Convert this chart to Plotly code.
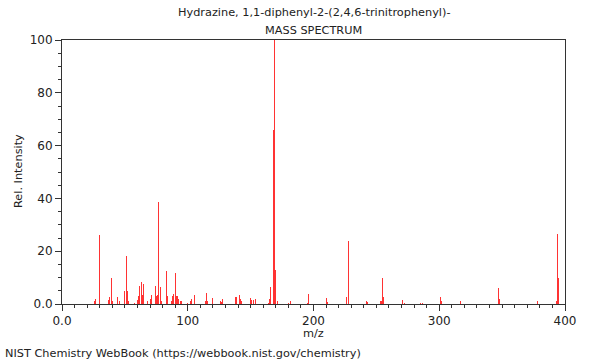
import plotly.graph_objects as go

mz = [26, 27, 30, 37, 38, 39, 40, 44, 46, 50, 51, 52, 53, 58, 60, 61, 62, 63, 64, 65, 66, 68, 70, 71,
      74, 75, 76, 77, 78, 79, 83, 84, 87, 88, 89, 90, 91, 92, 93, 94, 95, 100, 101, 102, 103, 105,
      114, 115, 116, 120, 126, 127, 128, 136, 138, 139, 141, 142, 143, 150, 151, 152, 154,
      164, 165, 166, 167, 168, 169, 170, 171, 180, 182, 195, 196, 198, 210, 211, 226, 228, 229,
      242, 243, 253, 254, 255, 256, 271, 272, 285, 287, 301, 302, 317, 347, 348, 378,
      393, 394, 395, 396]
intensity = [1.0, 1.8, 26.0, 1.5, 2.5, 9.8, 1.0, 2.7, 1.0, 5.0, 18.0, 5.0, 1.0, 0.5, 1.5, 3.2, 7.0, 8.2, 3.4, 7.4, 7.2, 1.0, 2.0, 3.3,
             6.7, 3.0, 3.5, 38.6, 6.6, 1.0, 12.6, 3.2, 1.0, 3.0, 3.8, 11.6, 3.0, 3.0, 2.0, 1.0, 1.2, 0.5, 1.0, 1.3, 1.8, 3.5,
             1.0, 4.0, 1.0, 2.3, 1.0, 0.8, 2.0, 3.0, 2.7, 2.6, 3.6, 2.0, 1.0, 2.2, 1.7, 1.5, 2.0,
             0.5, 2.0, 6.3, 40.0, 66.0, 100.0, 13.0, 1.0, 0.5, 1.0, 0.5, 3.8, 4.3, 2.2, 0.8, 2.8, 23.7, 2.5,
             1.0, 0.8, 1.0, 1.2, 10.0, 2.8, 1.6, 0.5, 0.3, 0.3, 2.5, 1.0, 1.2, 6.0, 2.0, 1.2,
             1.0, 26.6, 10.0, 2.0]

x_tickvals = [0, 100, 200, 300, 400]
x_ticktext = ["0.0", "100", "200", "300", "400"]
y_tickvals = [0, 20, 40, 60, 80, 100]
y_ticktext = ["0.0", "20", "40", "60", "80", "100"]

title_lines = ["Hydrazine, 1,1-diphenyl-2-(2,4,6-trinitrophenyl)-", "MASS SPECTRUM"]
x_title = "m/z"
y_title = "Rel. Intensity"
footer = "NIST Chemistry WebBook (https://webbook.nist.gov/chemistry)"

font_family = "DejaVu Sans, sans-serif"
axis_color = "#333333"
text_color = "#222222"

fig = go.Figure()
fig.add_trace(go.Bar(x=mz, y=intensity, width=0.75, hoverinfo="skip",
                     marker=dict(color="rgba(255,0,0,0.8)", line=dict(width=0))))

fig.update_layout(
    width=600, height=360,
    margin=dict(l=62, r=35, t=40, b=56, autoexpand=False),
    paper_bgcolor="white", plot_bgcolor="white",
    font=dict(family=font_family, size=11, color=text_color),
    showlegend=False,
    bargap=0,
)
fig.update_xaxes(
    range=[0, 400], tickvals=x_tickvals, ticktext=x_ticktext, automargin=False,
    showgrid=False, zeroline=False, showline=True, linecolor=axis_color, linewidth=1, mirror=True,
    ticks="outside", ticklen=6, tickcolor=axis_color, tickfont=dict(size=12),
    minor=dict(dtick=10, ticks="outside", ticklen=3, tickcolor=axis_color),
)
fig.update_yaxes(
    range=[0, 100], tickvals=y_tickvals, ticktext=y_ticktext, automargin=False,
    showgrid=False, zeroline=False, showline=True, linecolor=axis_color, linewidth=1, mirror=True,
    ticks="outside", ticklen=6, tickcolor=axis_color, tickfont=dict(size=12),
    minor=dict(dtick=5, ticks="outside", ticklen=3, tickcolor=axis_color),
)

def py(pix):
    return (304 - pix) / 264

def px(pix):
    return (pix - 62) / 503

fig.add_annotation(text=title_lines[0], xref="paper", yref="paper", x=0.5, y=py(13),
                   yanchor="middle", showarrow=False, font=dict(size=11.3, color=text_color))
fig.add_annotation(text=title_lines[1], xref="paper", yref="paper", x=0.5, y=py(30),
                   yanchor="middle", showarrow=False, font=dict(size=11.3, color=text_color))
fig.add_annotation(text=x_title, xref="paper", yref="paper", x=0.5, y=py(333),
                   yanchor="middle", showarrow=False, font=dict(size=11.3, color=text_color))
fig.add_annotation(text=y_title, xref="paper", yref="paper", x=px(18), y=py(171),
                   xanchor="center", yanchor="middle", textangle=-90, showarrow=False,
                   font=dict(size=11.3, color=text_color))
fig.add_annotation(text=footer, xref="paper", yref="paper", x=px(3), y=py(353),
                   xanchor="left", yanchor="middle", showarrow=False,
                   font=dict(size=11.3, color=text_color))

fig.write_html("out.html", config={"displayModeBar": False},
               post_script="document.body.style.margin='0';")
